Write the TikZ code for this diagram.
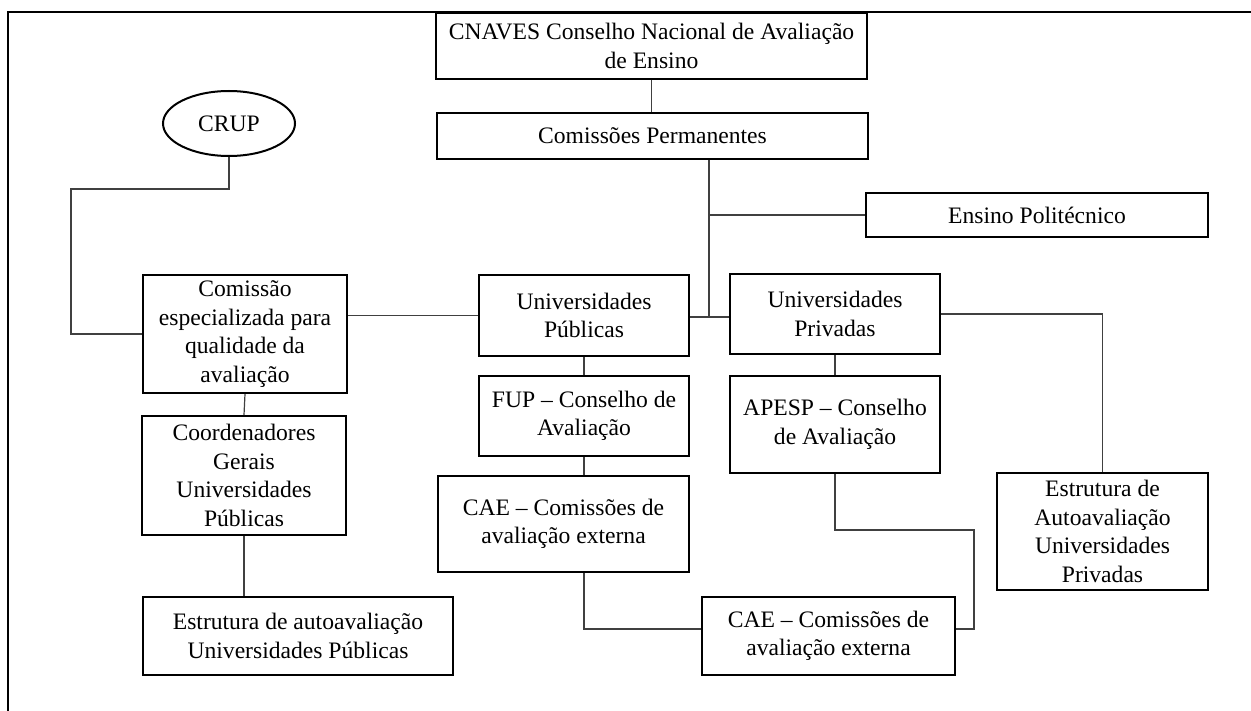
\documentclass[tikz,border=0pt]{standalone}
\usepackage{fontspec}
\setmainfont{Liberation Serif}
\usetikzlibrary{shapes.geometric}
\begin{document}
\begin{tikzpicture}[x=0.5pt,y=-0.5pt,
  caixa/.style={draw=black, line width=1pt, align=center, inner sep=0pt, font=\fontsize{11.8}{14.2}\selectfont},
  liga/.style={draw=black!75, line width=0.6pt}]
\useasboundingbox (0,0) rectangle (1251,711);
\draw [line width=1pt] (8,711) -- (8,12) -- (1251,12);
\node [caixa, minimum width=215.5pt, minimum height=33pt] (cnaves) at (651.5,46) {CNAVES Conselho Nacional de Avaliação\\de Ensino};
\node [caixa, minimum width=215.5pt, minimum height=23pt] (comperm) at (652.5,136) {Comissões Permanentes};
\node [caixa, minimum width=171pt, minimum height=22pt] (ensino) at (1037,215) {Ensino Politécnico};
\node [caixa, ellipse, minimum width=66pt, minimum height=32.5pt] (crup) at (229,123.5) {CRUP};
\node [caixa, minimum width=102pt, minimum height=59pt] (comesp) at (245,334) {Comissão\\especializada para\\qualidade da\\avaliação};
\node [caixa, minimum width=105pt, minimum height=40.5pt] (upub) at (584,315.5) {Universidades\\Públicas};
\node [caixa, minimum width=105pt, minimum height=40pt] (upriv) at (835,314) {Universidades\\Privadas};
\node [caixa, minimum width=102pt, minimum height=59.5pt] (coord) at (244,475.5) {Coordenadores\\Gerais\\Universidades\\Públicas};
\node [caixa, minimum width=155pt, minimum height=39pt] (estpub) at (298,636) {Estrutura de autoavaliação\\Universidades Públicas};
\node [caixa, minimum width=105pt, minimum height=40pt] (fup) at (584,416) {FUP -- Conselho de\\Avaliação};
\node [caixa, minimum width=125.5pt, minimum height=48pt] (caepub) at (563.5,524) {CAE -- Comissões de\\avaliação externa};
\node [caixa, minimum width=105pt, minimum height=48.5pt] (apesp) at (835,424.5) {APESP -- Conselho\\de Avaliação};
\node [caixa, minimum width=126.5pt, minimum height=39pt] (caepriv) at (828.5,636) {CAE -- Comissões de\\avaliação externa};
\node [caixa, minimum width=105.5pt, minimum height=58.5pt] (estpriv) at (1102.5,531.5) {Estrutura de\\Autoavaliação\\Universidades\\Privadas};
\coordinate (j1) at (709,317);
\coordinate (j2) at (709,215);
\coordinate (c1) at (71,189);
\coordinate (k1) at (974,530);
\draw [liga] (cnaves.south) -- (cnaves.south |- comperm.north);
\draw [liga] (comperm.south -| j1) -- (j1);
\draw [liga] (j2) -- (ensino.west);
\draw [liga] (upub.east |- j1) -- (j1) -- (upriv.west |- j1);
\draw [liga] (crup.south) |- (c1) |- (comesp.west);
\draw [liga] (upub.west) -- (upub.west -| comesp.east);
\draw [liga] (comesp.south) -- (coord.north);
\draw [liga] (coord.south) -- (coord.south |- estpub.north);
\draw [liga] (upub.south) -- (fup.north);
\draw [liga] (fup.south) -- (fup.south |- caepub.north);
\draw [liga] (caepub.south -| fup.south) |- ([yshift=3.5pt]caepriv.west);
\draw [liga] (upriv.south) -- (apesp.north);
\draw [liga] (apesp.south) |- (k1) |- ([yshift=3.5pt]caepriv.east);
\draw [liga] (upriv.east) -| (estpriv.north);
\end{tikzpicture}
\end{document}
